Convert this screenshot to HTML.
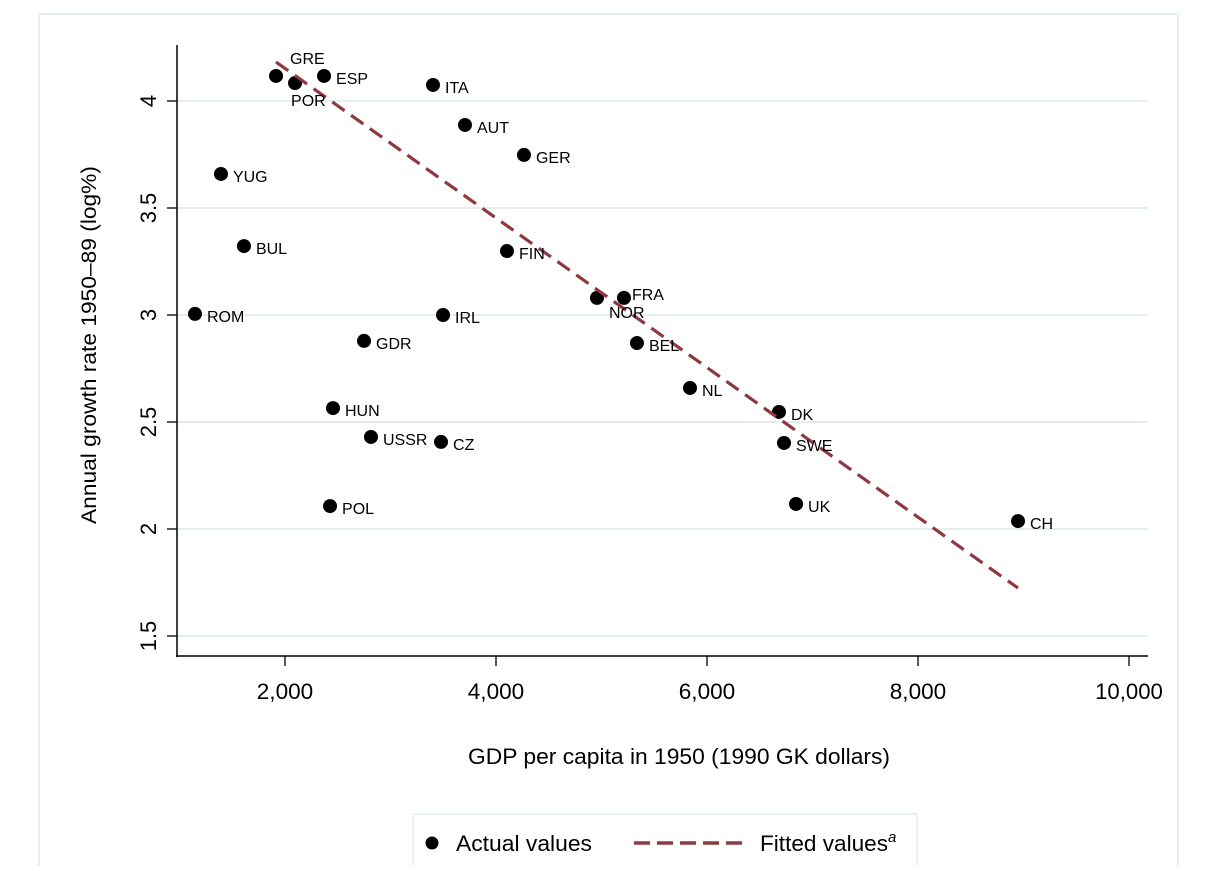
<!DOCTYPE html>
<html><head><meta charset="utf-8"><style>
html,body{margin:0;padding:0;background:#fff;}
svg text{font-family:"Liberation Sans",Arial,sans-serif;fill:#000;}
</style></head><body>
<svg id="chart" width="1218" height="866" xmlns="http://www.w3.org/2000/svg">
<rect x="39" y="14" width="1139" height="870" fill="#fff" stroke="#e6eded" stroke-width="2"/>
<g id="grid"></g><g id="axes"></g><g id="pts"></g><g id="fit"></g><g id="labels"></g>
<text transform="translate(96,345) rotate(-90)" text-anchor="middle" font-size="21" textLength="358" lengthAdjust="spacingAndGlyphs">Annual growth rate 1950–89 (log%)</text>
<text x="679" y="764" text-anchor="middle" font-size="22" textLength="422" lengthAdjust="spacingAndGlyphs">GDP per capita in 1950 (1990 GK dollars)</text>
<g>
<rect x="413" y="814" width="504" height="70" fill="#fff" stroke="#e6eded" stroke-width="1.5"/>
<circle cx="432" cy="843" r="6.5" fill="#000"/>
<text x="456" y="851" font-size="22" textLength="136" lengthAdjust="spacingAndGlyphs">Actual values</text>
<line x1="634" y1="843" x2="742" y2="843" stroke="#8c3a40" stroke-width="3.5" stroke-dasharray="16,7"/>
<text x="760" y="851" font-size="22"><tspan textLength="128" lengthAdjust="spacingAndGlyphs">Fitted values</tspan><tspan font-size="15" dy="-9" font-style="italic">a</tspan></text>
</g>
</svg>
<script>
const countries=["GRE","POR","ESP","ITA","AUT","GER","YUG","BUL","FIN","ROM","IRL","NOR","FRA","GDR","BEL","NL","DK","HUN","USSR","CZ","SWE","POL","UK","CH"];
const gdp=[1915,2095,2370,3403,3706,4265,1393,1611,4104,1147,3498,4957,5213,2749,5336,5839,6682,2455,2815,3479,6730,2427,6844,8948];
const growth=[4.117,4.084,4.117,4.075,3.888,3.748,3.659,3.322,3.299,3.005,3.0,3.08,3.08,2.879,2.869,2.659,2.547,2.565,2.430,2.407,2.402,2.107,2.117,2.037];
const fitX=[1915,8948];
const fitY=[4.182,1.724];
const xTicks=[2000,4000,6000,8000,10000];
const xTickLabels=["2,000","4,000","6,000","8,000","10,000"];
const yTicks=[1.5,2,2.5,3,3.5,4];
const yTickLabels=["1.5","2","2.5","3","3.5","4"];
const sx=v=>285+(v-2000)*0.1055;
const sy=v=>101+(4-v)*214;
const NS="http://www.w3.org/2000/svg";
function mk(tag,attrs,parent,txt){const e=document.createElementNS(NS,tag);for(const k in attrs)e.setAttribute(k,attrs[k]);if(txt!==undefined)e.textContent=txt;document.getElementById(parent).appendChild(e);return e;}
yTicks.forEach((t,i)=>{
  const g=mk('line',{x1:178,x2:1148,y1:sy(t),y2:sy(t),stroke:'#e6eded','stroke-width':2},'grid');
  
  
  const tk=mk('line',{x1:167,x2:177,y1:sy(t),y2:sy(t),stroke:'#000','stroke-width':1.3},'axes');
  
  
  const y=sy(t);
  const lb=mk('text',{transform:`translate(156,${y}) rotate(-90)`,'text-anchor':'middle','font-size':22},'axes',yTickLabels[i]);
  
  
});
xTicks.forEach((t,i)=>{
  const tk=mk('line',{x1:sx(t),x2:sx(t),y1:656,y2:666,stroke:'#000','stroke-width':1.3},'axes');
  
  
  const lb=mk('text',{x:sx(t),y:699,'text-anchor':'middle','font-size':22,textLength:xTickLabels[i].length*11.3,lengthAdjust:'spacingAndGlyphs'},'axes',xTickLabels[i]);
  
  
});
const ya=mk('line',{x1:177,x2:177,y1:45,y2:657,stroke:'#000','stroke-width':1.5},'axes');


const xa=mk('line',{x1:176,x2:1148,y1:656,y2:656,stroke:'#000','stroke-width':1.5},'axes');


const off={GRE:[14,-12],POR:[-4,23],NOR:[12,20],FRA:[8,2]};
countries.forEach((c,i)=>{
  const cx=sx(gdp[i]),cy=sy(growth[i]);
  const p=mk('circle',{cx:cx,cy:cy,r:7,fill:'#000'},'pts');
  
  
  const o=off[c]||[12,8];
  const l=mk('text',{x:cx+o[0],y:cy+o[1],'font-size':16},'labels',c);
  
  
});
const f=mk('line',{x1:sx(fitX[0]),y1:sy(fitY[0]),x2:sx(fitX[1]),y2:sy(fitY[1]),stroke:'#8c3a40','stroke-width':3.2,'stroke-dasharray':'15,8'},'fit');


</script>
</body></html>
